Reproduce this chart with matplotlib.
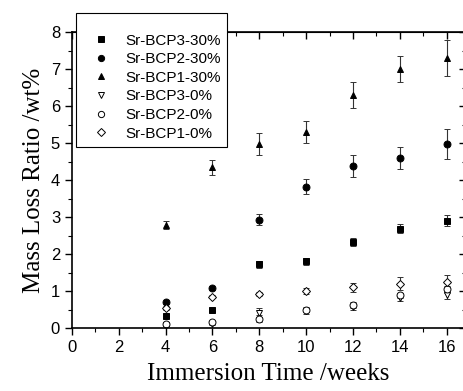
import matplotlib
matplotlib.use("Agg")
import matplotlib.pyplot as plt
from matplotlib.lines import Line2D
from matplotlib.ticker import MultipleLocator

weeks = [4, 6, 8, 10, 12, 14, 16]

labels = ["Sr-BCP3-30%", "Sr-BCP2-30%", "Sr-BCP1-30%",
          "Sr-BCP3-0%", "Sr-BCP2-0%", "Sr-BCP1-0%"]

bcp3_30 = [0.33, 0.50, 1.72, 1.80, 2.33, 2.68, 2.90]
bcp3_30_err = [0.05, 0.05, 0.10, 0.10, 0.10, 0.12, 0.15]
bcp2_30 = [0.70, 1.08, 2.93, 3.82, 4.37, 4.60, 4.97]
bcp2_30_err = [0.05, 0.06, 0.15, 0.20, 0.30, 0.30, 0.40]
bcp1_30 = [2.78, 4.35, 4.97, 5.30, 6.30, 7.00, 7.30]
bcp1_30_err = [0.10, 0.20, 0.30, 0.30, 0.35, 0.35, 0.48]
bcp3_0 = [0.08, 0.12, 0.42, 0.45, 0.58, 0.82, 0.88]
bcp3_0_err = [0.03, 0.04, 0.12, 0.06, 0.08, 0.08, 0.10]
bcp2_0 = [0.12, 0.15, 0.25, 0.50, 0.63, 0.88, 1.05]
bcp2_0_err = [0.03, 0.04, 0.10, 0.06, 0.08, 0.08, 0.10]
bcp1_0 = [0.55, 0.85, 0.92, 1.00, 1.10, 1.20, 1.25]
bcp1_0_err = [0.05, 0.05, 0.05, 0.08, 0.12, 0.18, 0.18]

series = [
    (bcp3_30, bcp3_30_err, "s", "black"),
    (bcp2_30, bcp2_30_err, "o", "black"),
    (bcp1_30, bcp1_30_err, "^", "black"),
    (bcp3_0, bcp3_0_err, "v", "white"),
    (bcp2_0, bcp2_0_err, "o", "white"),
    (bcp1_0, bcp1_0_err, "D", "white"),
]

plt.rcParams["font.family"] = "Liberation Sans"

fig = plt.figure(figsize=(4.64, 3.91), dpi=100)
ax = fig.add_axes([0.155, 0.161, 0.848, 0.757])

handles = []
for (vals, errs, mk, fc), lab in zip(series, labels):
    ms = 5 if mk != "D" else 4.5
    ax.errorbar(weeks, vals, yerr=errs, fmt=mk, mfc=fc, mec="black",
                mew=0.7, ms=ms, ecolor="#333333", elinewidth=0.8,
                capsize=2.5, capthick=0.8)
    # legend shows only the marker, no error bar
    handles.append(Line2D([], [], ls="none", marker=mk, mfc=fc, mec="black",
                          mew=0.7, ms=ms * 0.9, label=lab))

ax.set_xlim(0, 16.8)
ax.set_ylim(0, 8)
ax.xaxis.set_major_locator(MultipleLocator(2))
ax.xaxis.set_minor_locator(MultipleLocator(1))
ax.yaxis.set_major_locator(MultipleLocator(1))
ax.yaxis.set_minor_locator(MultipleLocator(0.5))
ax.tick_params(axis="both", which="major", labelsize=12, length=5, width=1)
ax.tick_params(axis="both", which="minor", length=3, width=0.8)
ax.tick_params(axis="both", which="both", direction="out")

# inward ticks on the top and right edges
sx = ax.secondary_xaxis("top")
sx.xaxis.set_major_locator(MultipleLocator(2))
sx.xaxis.set_minor_locator(MultipleLocator(1))
sx.tick_params(which="major", direction="in", length=5, width=1, labeltop=False)
sx.tick_params(which="minor", direction="in", length=3, width=0.8)
sy = ax.secondary_yaxis("right")
sy.yaxis.set_major_locator(MultipleLocator(1))
sy.yaxis.set_minor_locator(MultipleLocator(0.5))
sy.tick_params(which="major", direction="in", length=4, width=1, labelright=False)
sy.tick_params(which="minor", direction="in", length=2, width=0.8)
for sp in ax.spines.values():
    sp.set_linewidth(1.2)

ax.set_xlabel("Immersion Time /weeks", family="Liberation Serif", fontsize=18,
              labelpad=6)
ax.set_ylabel("Mass Loss Ratio /wt%", family="Liberation Serif", fontsize=18,
              labelpad=4)

leg = ax.legend(handles=handles, loc="upper left", bbox_to_anchor=(0.164, 0.967),
                bbox_transform=fig.transFigure, fontsize=11, frameon=True,
                fancybox=False, edgecolor="black", framealpha=1,
                borderaxespad=0, title=" ", title_fontsize=7,
                handletextpad=0.3, labelspacing=0.3, borderpad=0.4,
                handlelength=2.5)
leg.get_frame().set_linewidth(0.8)
leg.set_zorder(10)

fig.savefig("out.png", dpi=100)
